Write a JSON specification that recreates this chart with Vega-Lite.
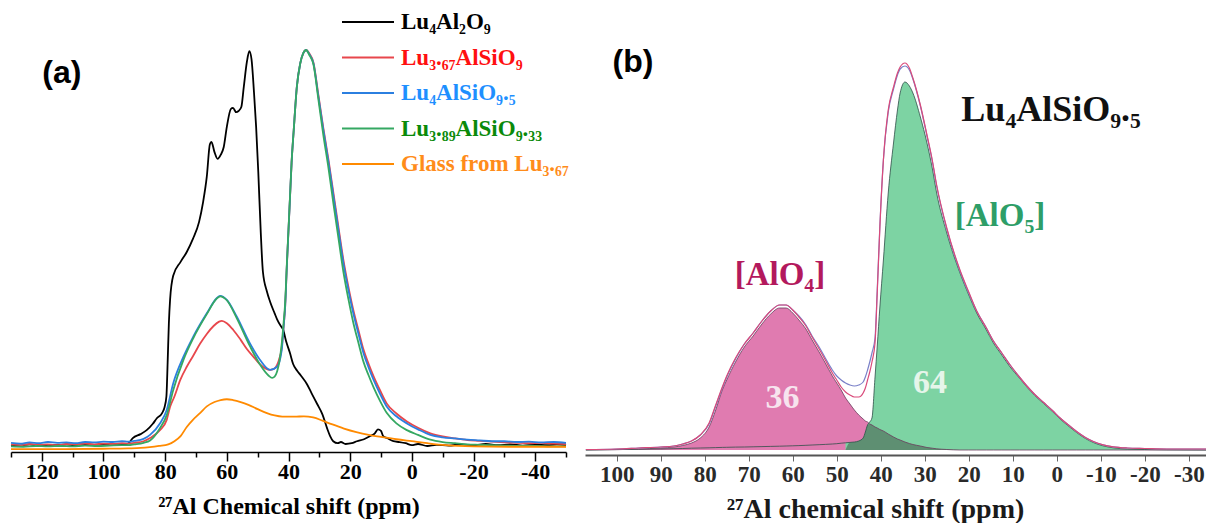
{
  "$schema": "https://vega.github.io/schema/vega-lite/v6.json",
  "padding": {"left": 7, "top": 0, "right": 0, "bottom": 0},
  "autosize": {"type": "pad"},
  "background": "white",
  "spacing": 19,
  "bounds": "flush",
  "config": {"view": {"stroke": null}},
  "datasets": {
    "a": [
      {"k":"A","ppm":130,"i":0.003},{"k":"A","ppm":127,"i":0.001},{"k":"A","ppm":124,"i":0.004},{"k":"A","ppm":121,"i":0.0},{"k":"A","ppm":118,"i":0.003},{"k":"A","ppm":115,"i":0.002},{"k":"A","ppm":112,"i":0.004},{"k":"A","ppm":109,"i":0.001},{"k":"A","ppm":106,"i":0.003},{"k":"A","ppm":103,"i":0.002},{"k":"A","ppm":100,"i":0.004},{"k":"A","ppm":97,"i":0.002},{"k":"A","ppm":94,"i":0.003},{"k":"A","ppm":92,"i":0.006},{"k":"A","ppm":90.5,"i":0.02},{"k":"A","ppm":88,"i":0.03},{"k":"A","ppm":86,"i":0.04},{"k":"A","ppm":84,"i":0.056},{"k":"A","ppm":82.7,"i":0.07},{"k":"A","ppm":81,"i":0.083},{"k":"A","ppm":80.2,"i":0.098},{"k":"A","ppm":79.6,"i":0.125},{"k":"A","ppm":79.2,"i":0.21},{"k":"A","ppm":78.8,"i":0.31},{"k":"A","ppm":78.4,"i":0.37},{"k":"A","ppm":77.4,"i":0.43},{"k":"A","ppm":75,"i":0.465},{"k":"A","ppm":73,"i":0.49},{"k":"A","ppm":71,"i":0.523},{"k":"A","ppm":69,"i":0.566},{"k":"A","ppm":67.7,"i":0.616},{"k":"A","ppm":66.5,"i":0.68},{"k":"A","ppm":65.5,"i":0.762},{"k":"A","ppm":65,"i":0.768},{"k":"A","ppm":64,"i":0.742},{"k":"A","ppm":63,"i":0.725},{"k":"A","ppm":62,"i":0.735},{"k":"A","ppm":61,"i":0.755},{"k":"A","ppm":60,"i":0.806},{"k":"A","ppm":58.7,"i":0.851},{"k":"A","ppm":58,"i":0.854},{"k":"A","ppm":57,"i":0.843},{"k":"A","ppm":56.2,"i":0.846},{"k":"A","ppm":55.3,"i":0.856},{"k":"A","ppm":54.5,"i":0.907},{"k":"A","ppm":53.5,"i":0.97},{"k":"A","ppm":52.7,"i":0.997},{"k":"A","ppm":52,"i":0.977},{"k":"A","ppm":51.2,"i":0.894},{"k":"A","ppm":50.5,"i":0.806},{"k":"A","ppm":49.8,"i":0.692},{"k":"A","ppm":49,"i":0.54},{"k":"A","ppm":48.3,"i":0.44},{"k":"A","ppm":47,"i":0.39},{"k":"A","ppm":46,"i":0.365},{"k":"A","ppm":44.5,"i":0.335},{"k":"A","ppm":43.7,"i":0.32},{"k":"A","ppm":42.5,"i":0.303},{"k":"A","ppm":41.8,"i":0.295},{"k":"A","ppm":40.8,"i":0.265},{"k":"A","ppm":39.5,"i":0.234},{"k":"A","ppm":38.5,"i":0.207},{"k":"A","ppm":37.2,"i":0.19},{"k":"A","ppm":36,"i":0.178},{"k":"A","ppm":34,"i":0.156},{"k":"A","ppm":32.5,"i":0.133},{"k":"A","ppm":30.7,"i":0.106},{"k":"A","ppm":29,"i":0.08},{"k":"A","ppm":27.5,"i":0.045},{"k":"A","ppm":26.5,"i":0.025},{"k":"A","ppm":25.5,"i":0.012},{"k":"A","ppm":24,"i":0.007},{"k":"A","ppm":23,"i":0.01},{"k":"A","ppm":21.5,"i":0.005},{"k":"A","ppm":19.5,"i":0.007},{"k":"A","ppm":17.8,"i":0.012},{"k":"A","ppm":15.5,"i":0.017},{"k":"A","ppm":13.5,"i":0.025},{"k":"A","ppm":12,"i":0.032},{"k":"A","ppm":11,"i":0.042},{"k":"A","ppm":10,"i":0.038},{"k":"A","ppm":9.3,"i":0.025},{"k":"A","ppm":8,"i":0.02},{"k":"A","ppm":6,"i":0.012},{"k":"A","ppm":4,"i":0.01},{"k":"A","ppm":2,"i":0.007},{"k":"A","ppm":0,"i":0.002},{"k":"A","ppm":-2,"i":0.005},{"k":"A","ppm":-5,"i":0.0},{"k":"A","ppm":-8,"i":0.003},{"k":"A","ppm":-12,"i":0.001},{"k":"A","ppm":-16,"i":0.004},{"k":"A","ppm":-20,"i":0.002},{"k":"A","ppm":-24,"i":0.005},{"k":"A","ppm":-28,"i":0.002},{"k":"A","ppm":-32,"i":0.004},{"k":"A","ppm":-36,"i":0.001},{"k":"A","ppm":-40,"i":0.003},{"k":"A","ppm":-44,"i":0.002},{"k":"A","ppm":-47,"i":0.004},{"k":"A","ppm":-50,"i":0.002},

      {"k":"B","ppm":130,"i":0.004},{"k":"B","ppm":127,"i":0.002},{"k":"B","ppm":124,"i":0.005},{"k":"B","ppm":121,"i":0.003},{"k":"B","ppm":118,"i":0.004},{"k":"B","ppm":115,"i":0.002},{"k":"B","ppm":112,"i":0.005},{"k":"B","ppm":109,"i":0.004},{"k":"B","ppm":106,"i":0.006},{"k":"B","ppm":103,"i":0.004},{"k":"B","ppm":100,"i":0.006},{"k":"B","ppm":97,"i":0.005},{"k":"B","ppm":94,"i":0.007},{"k":"B","ppm":92,"i":0.006},{"k":"B","ppm":90,"i":0.008},{"k":"B","ppm":87,"i":0.012},{"k":"B","ppm":84.9,"i":0.02},{"k":"B","ppm":81.7,"i":0.04},{"k":"B","ppm":79.5,"i":0.066},{"k":"B","ppm":78.4,"i":0.099},{"k":"B","ppm":77,"i":0.125},{"k":"B","ppm":75.1,"i":0.167},{"k":"B","ppm":73,"i":0.2},{"k":"B","ppm":70.9,"i":0.228},{"k":"B","ppm":68.7,"i":0.258},{"k":"B","ppm":66.5,"i":0.283},{"k":"B","ppm":64.3,"i":0.303},{"k":"B","ppm":62.5,"i":0.314},{"k":"B","ppm":61.6,"i":0.316},{"k":"B","ppm":60,"i":0.31},{"k":"B","ppm":57.9,"i":0.293},{"k":"B","ppm":55.5,"i":0.268},{"k":"B","ppm":53.5,"i":0.245},{"k":"B","ppm":51,"i":0.222},{"k":"B","ppm":49.2,"i":0.206},{"k":"B","ppm":47.5,"i":0.196},{"k":"B","ppm":46,"i":0.192},{"k":"B","ppm":45.4,"i":0.193},{"k":"B","ppm":44.5,"i":0.196},{"k":"B","ppm":43.7,"i":0.205},{"k":"B","ppm":43,"i":0.22},{"k":"B","ppm":42.2,"i":0.248},{"k":"B","ppm":41.6,"i":0.3},{"k":"B","ppm":41.1,"i":0.35},{"k":"B","ppm":40.5,"i":0.461},{"k":"B","ppm":40,"i":0.545},{"k":"B","ppm":39.5,"i":0.63},{"k":"B","ppm":39,"i":0.715},{"k":"B","ppm":38.3,"i":0.798},{"k":"B","ppm":37.3,"i":0.907},{"k":"B","ppm":36.2,"i":0.966},{"k":"B","ppm":35.2,"i":0.992},{"k":"B","ppm":34.3,"i":1.0},{"k":"B","ppm":33.3,"i":0.992},{"k":"B","ppm":31.9,"i":0.968},{"k":"B","ppm":30.3,"i":0.886},{"k":"B","ppm":28.7,"i":0.803},{"k":"B","ppm":27,"i":0.721},{"k":"B","ppm":25.4,"i":0.637},{"k":"B","ppm":23.8,"i":0.553},{"k":"B","ppm":22.2,"i":0.47},{"k":"B","ppm":20.6,"i":0.403},{"k":"B","ppm":19,"i":0.344},{"k":"B","ppm":17.3,"i":0.292},{"k":"B","ppm":15.7,"i":0.244},{"k":"B","ppm":14,"i":0.207},{"k":"B","ppm":12.4,"i":0.176},{"k":"B","ppm":10.2,"i":0.139},{"k":"B","ppm":8.1,"i":0.107},{"k":"B","ppm":5,"i":0.082},{"k":"B","ppm":1.6,"i":0.062},{"k":"B","ppm":-2,"i":0.046},{"k":"B","ppm":-6,"i":0.032},{"k":"B","ppm":-10,"i":0.024},{"k":"B","ppm":-14,"i":0.019},{"k":"B","ppm":-18,"i":0.015},{"k":"B","ppm":-22,"i":0.013},{"k":"B","ppm":-26,"i":0.011},{"k":"B","ppm":-30,"i":0.009},{"k":"B","ppm":-34,"i":0.008},{"k":"B","ppm":-38,"i":0.007},{"k":"B","ppm":-42,"i":0.008},{"k":"B","ppm":-46,"i":0.006},{"k":"B","ppm":-50,"i":0.005},

      {"k":"C","ppm":130,"i":0.008},{"k":"C","ppm":127,"i":0.006},{"k":"C","ppm":124,"i":0.009},{"k":"C","ppm":121,"i":0.007},{"k":"C","ppm":118,"i":0.01},{"k":"C","ppm":115,"i":0.008},{"k":"C","ppm":112,"i":0.009},{"k":"C","ppm":109,"i":0.007},{"k":"C","ppm":106,"i":0.01},{"k":"C","ppm":103,"i":0.009},{"k":"C","ppm":100,"i":0.011},{"k":"C","ppm":97,"i":0.01},{"k":"C","ppm":94,"i":0.012},{"k":"C","ppm":92,"i":0.011},{"k":"C","ppm":90,"i":0.013},{"k":"C","ppm":87,"i":0.018},{"k":"C","ppm":84.9,"i":0.028},{"k":"C","ppm":81.7,"i":0.057},{"k":"C","ppm":79.5,"i":0.091},{"k":"C","ppm":77.4,"i":0.158},{"k":"C","ppm":74.1,"i":0.225},{"k":"C","ppm":70.9,"i":0.276},{"k":"C","ppm":66.5,"i":0.335},{"k":"C","ppm":63.3,"i":0.373},{"k":"C","ppm":62.2,"i":0.379},{"k":"C","ppm":60,"i":0.369},{"k":"C","ppm":56.8,"i":0.327},{"k":"C","ppm":52.5,"i":0.259},{"k":"C","ppm":49.2,"i":0.217},{"k":"C","ppm":46,"i":0.192},{"k":"C","ppm":43.7,"i":0.2},{"k":"C","ppm":42.2,"i":0.242},{"k":"C","ppm":41.6,"i":0.3},{"k":"C","ppm":41.1,"i":0.35},{"k":"C","ppm":40.5,"i":0.461},{"k":"C","ppm":40,"i":0.545},{"k":"C","ppm":39.5,"i":0.63},{"k":"C","ppm":39,"i":0.715},{"k":"C","ppm":38.3,"i":0.798},{"k":"C","ppm":37.3,"i":0.907},{"k":"C","ppm":36.2,"i":0.966},{"k":"C","ppm":35.2,"i":0.992},{"k":"C","ppm":34.3,"i":1.0},{"k":"C","ppm":33.3,"i":0.99},{"k":"C","ppm":31.9,"i":0.966},{"k":"C","ppm":30.3,"i":0.882},{"k":"C","ppm":28.7,"i":0.798},{"k":"C","ppm":27,"i":0.715},{"k":"C","ppm":25.4,"i":0.63},{"k":"C","ppm":23.8,"i":0.545},{"k":"C","ppm":22.2,"i":0.462},{"k":"C","ppm":20.6,"i":0.395},{"k":"C","ppm":19,"i":0.336},{"k":"C","ppm":17.3,"i":0.283},{"k":"C","ppm":15.7,"i":0.235},{"k":"C","ppm":14,"i":0.198},{"k":"C","ppm":12.4,"i":0.167},{"k":"C","ppm":10.2,"i":0.13},{"k":"C","ppm":8.1,"i":0.099},{"k":"C","ppm":5,"i":0.075},{"k":"C","ppm":1.6,"i":0.057},{"k":"C","ppm":-2,"i":0.042},{"k":"C","ppm":-6,"i":0.028},{"k":"C","ppm":-10,"i":0.022},{"k":"C","ppm":-14,"i":0.019},{"k":"C","ppm":-18,"i":0.016},{"k":"C","ppm":-22,"i":0.014},{"k":"C","ppm":-26,"i":0.012},{"k":"C","ppm":-30,"i":0.012},{"k":"C","ppm":-34,"i":0.01},{"k":"C","ppm":-38,"i":0.011},{"k":"C","ppm":-42,"i":0.009},{"k":"C","ppm":-46,"i":0.01},{"k":"C","ppm":-50,"i":0.008},

      {"k":"D","ppm":130,"i":-0.001},{"k":"D","ppm":126,"i":-0.002},{"k":"D","ppm":122,"i":0.0},{"k":"D","ppm":118,"i":-0.001},{"k":"D","ppm":114,"i":0.0},{"k":"D","ppm":110,"i":-0.001},{"k":"D","ppm":106,"i":0.001},{"k":"D","ppm":102,"i":0.0},{"k":"D","ppm":98,"i":0.001},{"k":"D","ppm":94,"i":0.002},{"k":"D","ppm":92,"i":0.002},{"k":"D","ppm":90,"i":0.004},{"k":"D","ppm":87,"i":0.008},{"k":"D","ppm":84.9,"i":0.014},{"k":"D","ppm":81.7,"i":0.045},{"k":"D","ppm":79.5,"i":0.078},{"k":"D","ppm":77.4,"i":0.141},{"k":"D","ppm":74.1,"i":0.217},{"k":"D","ppm":70.9,"i":0.272},{"k":"D","ppm":66.5,"i":0.333},{"k":"D","ppm":63.3,"i":0.372},{"k":"D","ppm":62.2,"i":0.378},{"k":"D","ppm":60,"i":0.368},{"k":"D","ppm":56.8,"i":0.323},{"k":"D","ppm":52.5,"i":0.252},{"k":"D","ppm":49.2,"i":0.205},{"k":"D","ppm":46.5,"i":0.178},{"k":"D","ppm":45.3,"i":0.172},{"k":"D","ppm":44.5,"i":0.175},{"k":"D","ppm":43.7,"i":0.188},{"k":"D","ppm":43,"i":0.212},{"k":"D","ppm":42.2,"i":0.258},{"k":"D","ppm":41.6,"i":0.31},{"k":"D","ppm":41.1,"i":0.36},{"k":"D","ppm":40.5,"i":0.465},{"k":"D","ppm":40,"i":0.548},{"k":"D","ppm":39.5,"i":0.632},{"k":"D","ppm":39,"i":0.716},{"k":"D","ppm":38.3,"i":0.798},{"k":"D","ppm":37.3,"i":0.906},{"k":"D","ppm":36.2,"i":0.966},{"k":"D","ppm":35.2,"i":0.992},{"k":"D","ppm":34.3,"i":1.0},{"k":"D","ppm":33.3,"i":0.988},{"k":"D","ppm":31.9,"i":0.963},{"k":"D","ppm":30.3,"i":0.875},{"k":"D","ppm":28.7,"i":0.785},{"k":"D","ppm":27,"i":0.7},{"k":"D","ppm":25.4,"i":0.61},{"k":"D","ppm":23.8,"i":0.525},{"k":"D","ppm":22.2,"i":0.44},{"k":"D","ppm":20.6,"i":0.372},{"k":"D","ppm":19,"i":0.312},{"k":"D","ppm":17.3,"i":0.26},{"k":"D","ppm":15.7,"i":0.213},{"k":"D","ppm":14,"i":0.178},{"k":"D","ppm":12.4,"i":0.148},{"k":"D","ppm":10.2,"i":0.112},{"k":"D","ppm":8.1,"i":0.083},{"k":"D","ppm":5,"i":0.057},{"k":"D","ppm":1.6,"i":0.04},{"k":"D","ppm":-2,"i":0.028},{"k":"D","ppm":-6,"i":0.016},{"k":"D","ppm":-10,"i":0.01},{"k":"D","ppm":-14,"i":0.007},{"k":"D","ppm":-18,"i":0.004},{"k":"D","ppm":-22,"i":0.003},{"k":"D","ppm":-26,"i":0.002},{"k":"D","ppm":-30,"i":0.001},{"k":"D","ppm":-35,"i":0.0},{"k":"D","ppm":-40,"i":0.0},{"k":"D","ppm":-45,"i":-0.001},{"k":"D","ppm":-50,"i":-0.001},

      {"k":"E","ppm":130,"i":-0.008},{"k":"E","ppm":115,"i":-0.008},{"k":"E","ppm":100,"i":-0.007},{"k":"E","ppm":92,"i":-0.006},{"k":"E","ppm":88,"i":-0.005},{"k":"E","ppm":85,"i":-0.003},{"k":"E","ppm":82,"i":0.0},{"k":"E","ppm":79,"i":0.004},{"k":"E","ppm":77,"i":0.012},{"k":"E","ppm":75,"i":0.025},{"k":"E","ppm":73,"i":0.048},{"k":"E","ppm":71,"i":0.066},{"k":"E","ppm":68.7,"i":0.083},{"k":"E","ppm":66.5,"i":0.1},{"k":"E","ppm":64,"i":0.111},{"k":"E","ppm":62,"i":0.116},{"k":"E","ppm":60,"i":0.118},{"k":"E","ppm":58,"i":0.116},{"k":"E","ppm":55.5,"i":0.111},{"k":"E","ppm":53,"i":0.104},{"k":"E","ppm":50,"i":0.093},{"k":"E","ppm":47,"i":0.083},{"k":"E","ppm":44.5,"i":0.077},{"k":"E","ppm":42,"i":0.074},{"k":"E","ppm":38,"i":0.074},{"k":"E","ppm":35,"i":0.075},{"k":"E","ppm":32,"i":0.072},{"k":"E","ppm":29,"i":0.064},{"k":"E","ppm":26,"i":0.055},{"k":"E","ppm":22,"i":0.044},{"k":"E","ppm":18,"i":0.035},{"k":"E","ppm":14,"i":0.028},{"k":"E","ppm":10,"i":0.023},{"k":"E","ppm":5,"i":0.017},{"k":"E","ppm":0,"i":0.012},{"k":"E","ppm":-5,"i":0.007},{"k":"E","ppm":-11,"i":0.002},{"k":"E","ppm":-20,"i":-0.001},{"k":"E","ppm":-35,"i":-0.002},{"k":"E","ppm":-50,"i":-0.002}
    ],
    "b": [
      {"ppm":107,"p":0,"g":0,"e":0.5,"f":0.5},
      {"ppm":100,"p":0.3,"g":0.5,"e":1,"f":1},
      {"ppm":95,"p":1,"g":0.8,"e":2,"f":2},
      {"ppm":90,"p":2,"g":1,"e":3,"f":3},
      {"ppm":87,"p":3,"g":1.3,"e":4,"f":4},
      {"ppm":85,"p":4.5,"g":1.5,"e":6,"f":6},
      {"ppm":83,"p":7,"g":1.8,"e":9,"f":9},
      {"ppm":81,"p":12,"g":2,"e":15,"f":15},
      {"ppm":79,"p":23,"g":2.2,"e":27,"f":26},
      {"ppm":77.5,"p":40,"g":2.4,"e":45,"f":44},
      {"ppm":76,"p":60,"g":2.6,"e":63,"f":62},
      {"ppm":75,"p":70,"g":2.7,"e":74,"f":73},
      {"ppm":73,"p":88,"g":2.9,"e":92,"f":91},
      {"ppm":71,"p":103,"g":3,"e":106,"f":106},
      {"ppm":69,"p":114,"g":3.2,"e":117,"f":117},
      {"ppm":67,"p":126,"g":3.4,"e":129,"f":129},
      {"ppm":65,"p":136,"g":3.6,"e":139,"f":139},
      {"ppm":63,"p":142,"g":3.8,"e":145,"f":145},
      {"ppm":61.5,"p":142,"g":4,"e":145,"f":145},
      {"ppm":60,"p":137,"g":4.2,"e":140,"f":140},
      {"ppm":58.6,"p":130,"g":4.4,"e":133,"f":134},
      {"ppm":57,"p":121,"g":4.7,"e":124,"f":125},
      {"ppm":55.6,"p":110,"g":5,"e":113,"f":114},
      {"ppm":54,"p":98,"g":5.3,"e":101,"f":103},
      {"ppm":52.6,"p":87,"g":5.6,"e":90,"f":92},
      {"ppm":51,"p":74,"g":6,"e":77,"f":80},
      {"ppm":50,"p":67,"g":6.3,"e":70,"f":74},
      {"ppm":49,"p":60,"g":6.8,"e":63,"f":70},
      {"ppm":48,"p":52,"g":7.2,"o":0,"e":58,"f":67},
      {"ppm":47,"p":46,"g":7.6,"o":7.6,"e":55,"f":65},
      {"ppm":46,"p":40,"g":8,"o":8,"e":53,"f":64},
      {"ppm":45,"p":35,"g":9,"o":9,"e":53,"f":65},
      {"ppm":44,"p":31,"g":12,"o":12,"e":57,"f":68},
      {"ppm":43.5,"p":29,"g":18,"o":18,"e":62,"f":73},
      {"ppm":43,"p":28,"g":25,"o":25,"e":70,"f":80},
      {"ppm":42.5,"p":26,"g":28,"o":26,"e":78,"f":88},
      {"ppm":42,"p":25,"g":32,"o":25,"e":88,"f":97},
      {"ppm":41.3,"p":23,"g":73,"o":23,"e":107,"f":112},
      {"ppm":40.8,"p":22,"g":104,"o":22,"e":157,"f":160},
      {"ppm":40.2,"p":20.5,"g":143,"o":20.5,"e":223,"f":224},
      {"ppm":39.4,"p":19,"g":190,"o":19,"e":290,"f":290},
      {"ppm":38.3,"p":16,"g":257,"o":16,"e":340,"f":338},
      {"ppm":37.1,"p":13,"g":307,"o":13,"e":363,"f":361},
      {"ppm":36.2,"p":11,"g":340,"o":11,"e":377,"f":375},
      {"ppm":35.6,"p":10,"g":357,"o":10,"e":383,"f":381},
      {"ppm":34.5,"p":8,"g":368,"o":8,"e":387,"f":384},
      {"ppm":33.5,"p":6.5,"g":364,"o":6.5,"e":382,"f":380},
      {"ppm":32.7,"p":5.5,"g":357,"o":5.5,"e":372,"f":371},
      {"ppm":31,"p":4,"g":333,"o":4,"e":345,"f":344},
      {"ppm":29.5,"p":2.5,"g":307,"o":2.5,"e":315,"f":314},
      {"ppm":28.3,"p":1.8,"g":282,"o":1.8,"e":290,"f":289},
      {"ppm":27.3,"p":1.2,"g":257,"o":1.2,"e":265,"f":264},
      {"ppm":25,"p":0.5,"g":217,"o":0.5,"e":222,"f":221},
      {"ppm":22,"p":0,"g":177,"o":0,"e":180,"f":179},
      {"ppm":20,"p":0,"g":155,"e":158,"f":157},
      {"ppm":18.2,"p":0,"g":137,"e":139,"f":139},
      {"ppm":16,"p":0,"g":120,"e":122,"f":122},
      {"ppm":14.4,"p":0,"g":107,"e":109,"f":109},
      {"ppm":12.5,"p":0,"g":95,"e":97,"f":97},
      {"ppm":10.6,"p":0,"g":83,"e":85,"f":85},
      {"ppm":8.5,"p":0,"g":72,"e":73,"f":73},
      {"ppm":6.8,"p":0,"g":63,"e":64,"f":64},
      {"ppm":5,"p":0,"g":54.5,"e":55.5,"f":55.5},
      {"ppm":3,"p":0,"g":46.5,"e":47.5,"f":47.5},
      {"ppm":1,"p":0,"g":38.5,"e":39.5,"f":39.5},
      {"ppm":-0.75,"p":0,"g":31,"e":32,"f":32},
      {"ppm":-2.5,"p":0,"g":24.5,"e":25.5,"f":25.5},
      {"ppm":-4.5,"p":0,"g":17.5,"e":18.5,"f":18.5},
      {"ppm":-6.5,"p":0,"g":11.5,"e":12.5,"f":12.5},
      {"ppm":-8.3,"p":0,"g":7.5,"e":8.5,"f":8.5},
      {"ppm":-10.5,"p":0,"g":4.2,"e":5.2,"f":5.2},
      {"ppm":-12.8,"p":0,"g":2.2,"e":3.2,"f":3.2},
      {"ppm":-16,"p":0,"g":1,"e":2,"f":2},
      {"ppm":-20,"p":0,"g":0.5,"e":1.5,"f":1.5},
      {"ppm":-25,"p":0,"g":0.2,"e":1,"f":1},
      {"ppm":-34,"p":0,"g":0,"e":1,"f":1}
    ]
  },
  "hconcat": [
    {
      "width": 555,
      "height": 452,
      "resolve": {"axis": {"x": "independent"}},
      "layer": [
        {
          "data": {"name": "a"},
          "mark": {"type": "line", "strokeWidth": 1.8, "interpolate": "monotone"},
          "encoding": {
            "x": {
              "field": "ppm", "type": "quantitative",
              "scale": {"domain": [-50, 130], "reverse": true, "nice": false, "zero": false},
              "axis": {
                "orient": "bottom",
                "values": [120,100,80,60,40,20,0,-20,-40],
                "labelExpr": "'' + datum.value",
                "title": "²⁷Al Chemical shift (ppm)",
                "titleFont": "Liberation Serif", "titleFontSize": 24, "titleFontWeight": "bold", "titleColor": "#000000",
                "labelFont": "Liberation Serif", "labelFontSize": 22, "labelFontWeight": "bold", "labelColor": "#000000",
                "domainColor": "#000000", "domainWidth": 1.5,
                "tickColor": "#000000", "tickWidth": 1.5, "tickSize": 9,
                "labelPadding": 0, "titlePadding": 12,
                "grid": false, "labelFlush": false, "labelOverlap": false
              }
            },
            "y": {
              "field": "i", "type": "quantitative",
              "scale": {"domain": [-0.0152, 1.1263], "nice": false, "zero": false},
              "axis": null
            },
            "color": {
              "field": "k", "type": "nominal",
              "scale": {"domain": ["A","B","C","D","E"], "range": ["#000000","#e8474c","#2b7fe0","#35a862","#ff8a00"]},
              "legend": {
                "orient": "none", "legendX": 336, "legendY": 1,
                "title": null, "padding": 0,
                "symbolType": "M-1.3,0H1.3", "symbolSize": 1600, "symbolStrokeWidth": 2,
                "labelFont": "Liberation Serif", "labelFontSize": 23, "labelFontWeight": "bold",
                "labelOffset": 12, "rowPadding": 2.5, "labelLimit": 400,
                "labelExpr": "{'A':'Lu₄Al₂O₉','B':'Lu₃.₆₇AlSiO₉','C':'Lu₄AlSiO₉.₅','D':'Lu₃.₈₉AlSiO₉.₃₃','E':'Glass from Lu₃.₆₇'}[datum.value]",
                "encode": {"labels": {"update": {"fill": {"signal": "{'A':'#000000','B':'#ff1010','C':'#1e8fff','D':'#0a8a0a','E':'#ff8c1a'}[datum.value]"}}}}
              }
            }
          }
        },
        {
          "data": {"values": [{}]},
          "mark": {"type": "text", "text": "(a)", "font": "Liberation Sans", "fontSize": 32, "fontWeight": "bold", "align": "center", "baseline": "middle", "color": "#000000"},
          "encoding": {
            "x": {
              "datum": 113.5, "type": "quantitative",
              "axis": {
                "orient": "bottom",
                "values": [130,110,90,70,50,30,10,-10,-30,-50],
                "labels": false, "domain": false, "title": null, "grid": false,
                "tickColor": "#000000", "tickWidth": 1.5, "tickSize": 5
              }
            },
            "y": {"datum": 0.942}
          }
        }
      ]
    },
    {
      "width": 621,
      "height": 455,
      "layer": [
        {
          "data": {"name": "b"},
          "mark": {"type": "area", "interpolate": "monotone", "color": "#e07bb0", "opacity": 1},
          "encoding": {
            "x": {
              "field": "ppm", "type": "quantitative",
              "scale": {"domain": [-33.9, 107.2], "reverse": true, "nice": false, "zero": false},
              "axis": {
                "values": [100,90,80,70,60,50,40,30,20,10,0,-10,-20,-30],
                "labelExpr": "'' + datum.value",
                "title": "²⁷Al chemical shift (ppm)", "titleX": 290,
                "titleFont": "Liberation Serif", "titleFontSize": 28, "titleFontWeight": "bold", "titleColor": "#1a1a1a",
                "labelFont": "Liberation Serif", "labelFontSize": 23, "labelFontWeight": "bold", "labelColor": "#2a2a2a",
                "domainColor": "#555555", "domainWidth": 2,
                "tickColor": "#666666", "tickWidth": 1, "tickSize": 6,
                "labelPadding": 2, "titlePadding": 9,
                "grid": false, "labelFlush": false, "labelOverlap": false
              }
            },
            "y": {"field": "p", "type": "quantitative", "scale": {"domain": [-5, 450], "nice": false, "zero": false}, "axis": null}
          }
        },
        {
          "data": {"name": "b"},
          "transform": [{"filter": "datum.ppm <= 48"}],
          "mark": {"type": "area", "interpolate": "monotone", "color": "#7dd3a3", "opacity": 1},
          "encoding": {"x": {"field": "ppm", "type": "quantitative"}, "y": {"field": "g", "type": "quantitative"}}
        },
        {
          "data": {"name": "b"},
          "mark": {"type": "area", "interpolate": "monotone", "color": "#5e8f72", "opacity": 1},
          "encoding": {"x": {"field": "ppm", "type": "quantitative"}, "y": {"field": "o", "type": "quantitative"}}
        },
        {
          "data": {"name": "b"},
          "mark": {"type": "line", "interpolate": "monotone", "color": "#6a3c5c", "strokeWidth": 1, "opacity": 0.8},
          "encoding": {"x": {"field": "ppm", "type": "quantitative"}, "y": {"field": "p", "type": "quantitative"}}
        },
        {
          "data": {"name": "b"},
          "mark": {"type": "line", "interpolate": "monotone", "color": "#2f4f48", "strokeWidth": 1, "opacity": 0.8},
          "encoding": {"x": {"field": "ppm", "type": "quantitative"}, "y": {"field": "g", "type": "quantitative"}}
        },
        {
          "data": {"name": "b"},
          "mark": {"type": "line", "interpolate": "monotone", "color": "#7a80c8", "strokeWidth": 1.2},
          "encoding": {"x": {"field": "ppm", "type": "quantitative"}, "y": {"field": "f", "type": "quantitative"}}
        },
        {
          "data": {"name": "b"},
          "mark": {"type": "line", "interpolate": "monotone", "color": "#d94a7a", "strokeWidth": 1.2},
          "encoding": {"x": {"field": "ppm", "type": "quantitative"}, "y": {"field": "e", "type": "quantitative"}}
        },
        {
          "data": {"values": [{}]},
          "mark": {"type": "text", "text": "(b)", "font": "Liberation Sans", "fontSize": 32, "fontWeight": "bold", "align": "center", "baseline": "middle", "color": "#000000"},
          "encoding": {"x": {"datum": 96.3}, "y": {"datum": 388}}
        },
        {
          "data": {"values": [{}]},
          "mark": {"type": "text", "text": "Lu₄AlSiO₉.₅", "font": "Liberation Serif", "fontSize": 36, "fontWeight": "bold", "align": "center", "baseline": "middle", "color": "#111111"},
          "encoding": {"x": {"datum": 1.3}, "y": {"datum": 340}}
        },
        {
          "data": {"values": [{}]},
          "mark": {"type": "text", "text": "[AlO₅]", "font": "Liberation Serif", "fontSize": 33, "fontWeight": "bold", "align": "center", "baseline": "middle", "color": "#2e9e68"},
          "encoding": {"x": {"datum": 12.9}, "y": {"datum": 234}}
        },
        {
          "data": {"values": [{}]},
          "mark": {"type": "text", "text": "[AlO₄]", "font": "Liberation Serif", "fontSize": 33, "fontWeight": "bold", "align": "center", "baseline": "middle", "color": "#b3195d"},
          "encoding": {"x": {"datum": 62.9}, "y": {"datum": 175}}
        },
        {
          "data": {"values": [{}]},
          "mark": {"type": "text", "text": "36", "font": "Liberation Serif", "fontSize": 34, "fontWeight": "bold", "align": "center", "baseline": "middle", "color": "#f7e4ee"},
          "encoding": {"x": {"datum": 62.3}, "y": {"datum": 52}}
        },
        {
          "data": {"values": [{}]},
          "mark": {"type": "text", "text": "64", "font": "Liberation Serif", "fontSize": 34, "fontWeight": "bold", "align": "center", "baseline": "middle", "color": "#e6f5ea"},
          "encoding": {"x": {"datum": 28.8}, "y": {"datum": 67}}
        }
      ]
    }
  ],
  "resolve": {"scale": {"color": "independent", "x": "independent", "y": "independent"}, "legend": {"color": "independent"}}
}
